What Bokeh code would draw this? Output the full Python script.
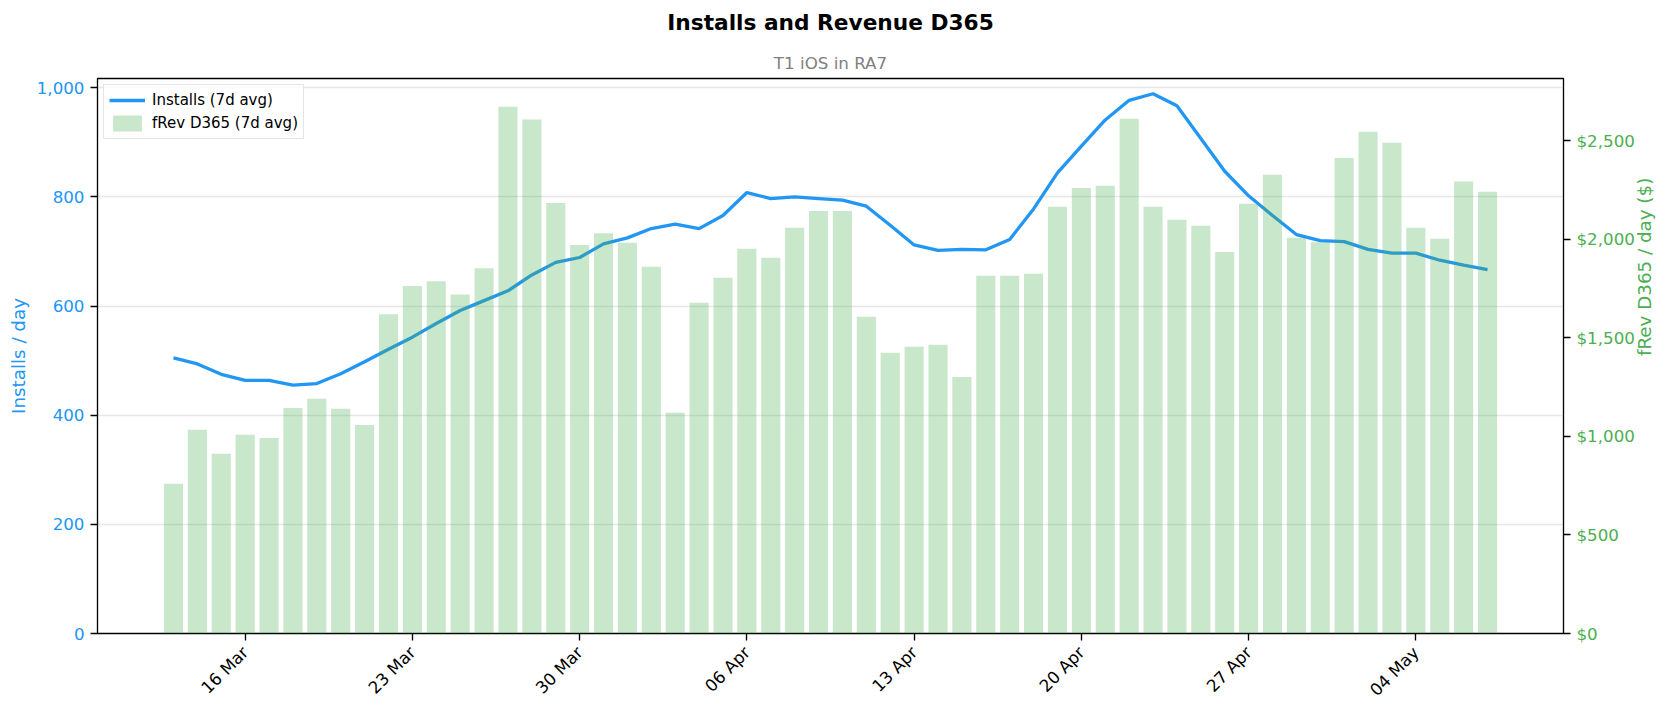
import pandas as pd
from math import pi
from bokeh.plotting import figure
from bokeh.models import (Range1d, LinearAxis, FixedTicker, NumeralTickFormatter,
                          DatetimeTickFormatter, Legend, LegendItem, Title, ColumnDataSource)
from bokeh.embed import file_html
from bokeh.resources import INLINE

# ---------------- data ----------------
dates = pd.date_range("2025-03-13", "2025-05-07", freq="D")

installs_7d = [505, 494, 475, 464, 464, 455, 458, 476, 498, 521,
               543, 568, 592, 610, 628, 657, 680, 689, 714, 725,
               742, 750, 742, 766, 808, 797, 800, 797, 794, 783,
               748, 712, 702, 704, 703, 722, 778, 844, 893, 941,
               977, 989, 967, 907, 847, 802, 766, 731, 720, 718,
               704, 697, 697, 684, 675, 667]

frev_d365_7d = [760, 1034, 912, 1008, 992, 1144, 1191, 1140, 1058, 1619,
                1762, 1787, 1720, 1853, 2672, 2607, 2184, 1970, 2030, 1982,
                1860, 1120, 1677, 1804, 1951, 1906, 2058, 2143, 2143, 1607,
                1424, 1455, 1464, 1301, 1815, 1815, 1825, 2164, 2260, 2271,
                2611, 2164, 2098, 2068, 1935, 2180, 2327, 2007, 1984, 2412,
                2545, 2489, 2058, 2002, 2292, 2241]

tick_dates = ["2025-03-16", "2025-03-23", "2025-03-30", "2025-04-06",
              "2025-04-13", "2025-04-20", "2025-04-27", "2025-05-04"]
left_ticks = [0, 200, 400, 600, 800, 1000]
right_ticks = [0, 500, 1000, 1500, 2000, 2500]

title_text = "Installs and Revenue D365"
subtitle_text = "T1 iOS in RA7"
left_label = "Installs / day"
right_label = "fRev D365 / day ($)"
line_label = "Installs (7d avg)"
bar_label = "fRev D365 (7d avg)"

# ---------------- style ----------------
BLUE = "#2196F3"
GREEN = "#4CAF50"
FONT = "DejaVu Sans"
TICK_FS = "16.7px"

W, H = 1668, 712
FL, FT = 97, 78
FW, FH = 1466, 555
FR, FB = W - FL - FW, H - FT - FH

DAY_MS = 86400000
pad = pd.Timedelta(days=3.18)

src = ColumnDataSource(dict(date=dates, installs=installs_7d, rev=frev_d365_7d))

p = figure(width=W, height=H, x_axis_type="datetime",
           output_backend="svg", toolbar_location=None,
           x_range=Range1d(dates[0] - pad, dates[-1] + pad),
           y_range=Range1d(0, 1017),
           min_border_left=FL, min_border_right=FR,
           min_border_top=FT, min_border_bottom=FB)
p.extra_y_ranges = {"rev": Range1d(0, 2815)}

p.background_fill_color = "white"
p.border_fill_color = "white"
p.outline_line_color = "black"
p.outline_line_width = 1.33
p.outline_line_alpha = 1.0

line_r = p.line("date", "installs", source=src, line_color=BLUE, line_width=3.3)
bar_r = p.vbar(x="date", top="rev", width=0.8 * DAY_MS, source=src,
               y_range_name="rev", fill_color=GREEN, fill_alpha=0.3, line_color=None)

# grids
p.xgrid.visible = False
p.ygrid.ticker = FixedTicker(ticks=left_ticks)
p.ygrid.grid_line_color = "#b0b0b0"
p.ygrid.grid_line_alpha = 0.3
p.ygrid.grid_line_width = 1.33


def style_axis(ax, color):
    ax.axis_line_color = None
    ax.major_tick_line_color = "black"
    ax.major_tick_line_width = 1.33
    ax.major_tick_out = 7
    ax.major_tick_in = 0
    ax.minor_tick_line_color = None
    ax.major_label_text_font = FONT
    ax.major_label_text_font_size = TICK_FS
    ax.major_label_text_color = color
    ax.major_label_standoff = 6
    ax.axis_label_text_font = FONT
    ax.axis_label_text_font_size = "18.3px"
    ax.axis_label_text_font_style = "normal"
    ax.axis_label_text_color = color


# left axis
ly = p.yaxis[0]
ly.ticker = FixedTicker(ticks=left_ticks)
ly.formatter = NumeralTickFormatter(format="0,0")
style_axis(ly, BLUE)
ly.axis_label = left_label
ly.axis_label_standoff = 5

# right axis
ry = LinearAxis(y_range_name="rev", ticker=FixedTicker(ticks=right_ticks),
                formatter=NumeralTickFormatter(format="$0,0"))
style_axis(ry, GREEN)
ry.axis_label = right_label
if "axis_label_orientation" in ry.properties():
    ry.axis_label_orientation = pi / 2
    ry.axis_label_standoff = 7
else:
    ry.axis_label_standoff = 0
p.add_layout(ry, "right")

# bottom axis
bx = p.xaxis[0]
bx.ticker = FixedTicker(ticks=[pd.Timestamp(d).value // 10**6 for d in tick_dates])
fmt = "%d %b"
bx.formatter = DatetimeTickFormatter(microseconds=fmt, milliseconds=fmt, seconds=fmt,
                                     minsec=fmt, minutes=fmt, hourmin=fmt, hours=fmt,
                                     days=fmt, months=fmt, years=fmt)
style_axis(bx, "black")
bx.major_label_orientation = pi / 4
bx.major_label_standoff = 9

# titles (subtitle closest to the frame, main title above it)
p.title.text = ""
p.add_layout(Title(text=subtitle_text, align="center", vertical_align="bottom",
                   standoff=12, text_font=FONT, text_font_size="16.7px",
                   text_font_style="normal", text_color="#808080"), "above")
p.add_layout(Title(text=title_text, align="center", vertical_align="top",
                   standoff=15, text_font=FONT, text_font_size="21.7px",
                   text_font_style="bold", text_color="black"), "above")

legend = Legend(items=[LegendItem(label=line_label, renderers=[line_r]),
                       LegendItem(label=bar_label, renderers=[bar_r])],
                location="top_left", margin=6, padding=5, spacing=3,
                glyph_width=36, glyph_height=20, label_standoff=7,
                label_text_font=FONT, label_text_font_size="15px",
                label_text_color="black",
                border_line_color="#cccccc", border_line_width=1.33,
                background_fill_alpha=0.8)
p.add_layout(legend)

open("out.html", "w").write(file_html(p, INLINE))
